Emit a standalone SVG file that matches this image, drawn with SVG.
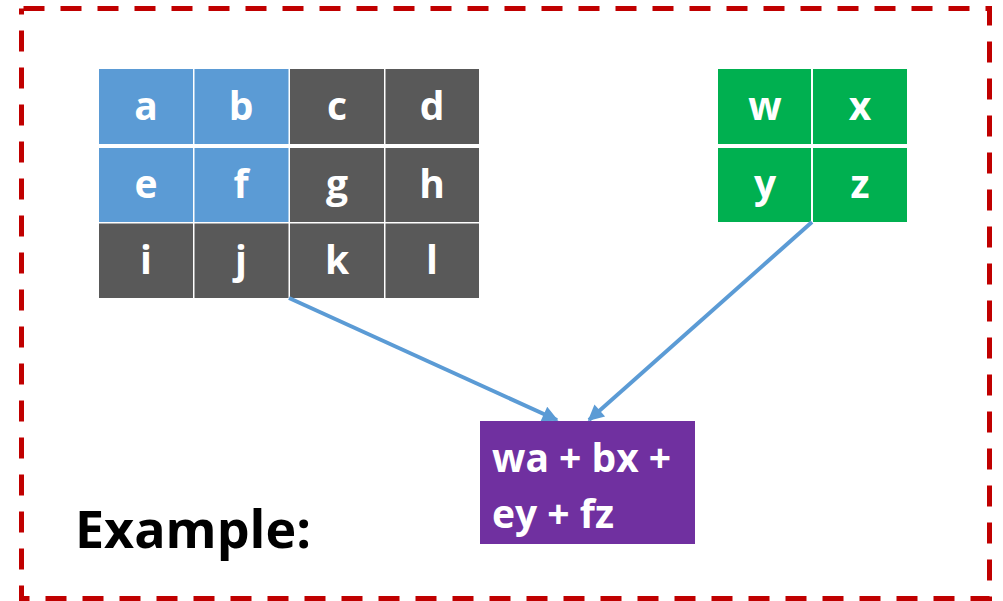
<svg xmlns="http://www.w3.org/2000/svg" width="1003" height="601" viewBox="0 0 1003 601">
<style>
.cell{stroke:none}
.blue{fill:#5B9BD5}
.gray{fill:#595959}
.green{fill:#00B050}
.lbl{font-family:"Open Sans","Liberation Sans",sans-serif;font-weight:bold;font-size:39px;fill:#fff;text-anchor:middle}
.conn{stroke:#5B9BD5;stroke-width:4;fill:none}
.res{font-family:"Open Sans","Liberation Sans",sans-serif;font-weight:bold;font-size:39px;fill:#fff}
</style>
<defs>
<marker id="ah" viewBox="0 0 10 10" refX="9" refY="5" markerWidth="4.5" markerHeight="4" markerUnits="strokeWidth" orient="auto">
<path d="M0,0 L10,5 L0,10 z" fill="#5B9BD5"/>
</marker>
</defs>
<rect width="1003" height="601" fill="#fff"/>
<rect id="border" x="21.5" y="8.5" width="968" height="590" fill="none" stroke="#C00000" stroke-width="5" stroke-dasharray="21 16" stroke-dashoffset="-2"/>
<g id="grid-abcd">
<rect class="cell blue" x="99" y="69" width="94" height="75"/>
<rect class="cell blue" x="194.5" y="69" width="94" height="75"/>
<rect class="cell gray" x="290" y="69" width="94" height="75"/>
<rect class="cell gray" x="385.5" y="69" width="93.5" height="75"/>
<rect class="cell blue" x="99" y="148" width="94" height="74"/>
<rect class="cell blue" x="194.5" y="148" width="94" height="74"/>
<rect class="cell gray" x="290" y="148" width="94" height="74"/>
<rect class="cell gray" x="385.5" y="148" width="93.5" height="74"/>
<rect class="cell gray" x="99" y="223.5" width="94" height="74.5"/>
<rect class="cell gray" x="194.5" y="223.5" width="94" height="74.5"/>
<rect class="cell gray" x="290" y="223.5" width="94" height="74.5"/>
<rect class="cell gray" x="385.5" y="223.5" width="93.5" height="74.5"/>
<text class="lbl" x="146" y="120">a</text>
<text class="lbl" x="241" y="120">b</text>
<text class="lbl" x="337" y="120">c</text>
<text class="lbl" x="432" y="120">d</text>
<text class="lbl" x="146" y="198">e</text>
<text class="lbl" x="241" y="198">f</text>
<text class="lbl" x="337" y="198">g</text>
<text class="lbl" x="432" y="198">h</text>
<text class="lbl" x="146" y="274">i</text>
<text class="lbl" x="241" y="274">j</text>
<text class="lbl" x="337" y="274">k</text>
<text class="lbl" x="432" y="274">l</text>
</g>
<g id="grid-wxyz">
<rect class="cell green" x="718" y="69" width="93" height="75"/>
<rect class="cell green" x="813" y="69" width="94" height="75"/>
<rect class="cell green" x="718" y="148" width="93" height="74"/>
<rect class="cell green" x="813" y="148" width="94" height="74"/>
<text class="lbl" x="765" y="120">w</text>
<text class="lbl" x="860" y="120">x</text>
<text class="lbl" x="765" y="198">y</text>
<text class="lbl" x="860" y="198">z</text>
</g>
<g id="connectors">
<line class="conn" x1="289" y1="298" x2="557" y2="420" marker-end="url(#ah)"/>
<line class="conn" x1="812" y1="222" x2="589" y2="420" marker-end="url(#ah)"/>
</g>
<g id="result">
<rect x="480" y="421" width="215" height="123" fill="#7030A0"/>
<text class="res" x="492" y="472">wa + bx +</text>
<text class="res" x="492" y="528">ey + fz</text>
</g>
<g id="caption">
<text x="75" y="548" font-family="Open Sans, Liberation Sans, sans-serif" font-weight="bold" font-size="52" fill="#000">Example:</text>
</g>
</svg>
